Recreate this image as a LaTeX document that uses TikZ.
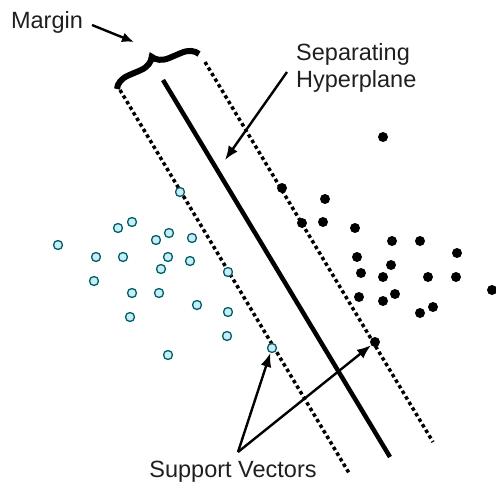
\documentclass[tikz,border=0pt]{standalone}
\usepackage{fontspec}
\setmainfont{Liberation Sans}
\usetikzlibrary{arrows.meta,decorations.pathreplacing}

\begin{document}
\begin{tikzpicture}[x=1pt, y=-1pt,
    caption/.style = {font=\fontsize{23.5}{27}\selectfont, text=black!88, inner sep=1pt},
    negdot/.style = {draw=teal!75!black, fill=cyan!22!white, line width=1.3pt, circle, inner sep=0pt, minimum size=9pt},
    posdot/.style = {fill=black, circle, inner sep=0pt, minimum size=10pt},
    marginline/.style = {line width=3.5pt, dash pattern=on 3.5pt off 3pt},
    plane/.style = {line width=4.5pt},
    pointer/.style = {line width=2.4pt, -{Latex[length=14pt,width=11pt]}}]
    \useasboundingbox (0,0) rectangle (496,485);

    % the hyperplane and its margins
    \coordinate (l1) at (120,90);  \coordinate (l2) at (349,473);
    \coordinate (h1) at (163,80);  \coordinate (h2) at (390,457);
    \coordinate (r1) at (205,62);  \coordinate (r2) at (433,442);
    \draw[marginline] (l1) -- (l2);
    \draw[plane] (h1) -- (h2);
    \draw[marginline] (r1) -- (r2);

    % class one
    \foreach \x/\y [count=\i] in {180/192, 118/228, 132/222, 58/245, 96/257, 123/257,
        156/240, 169/233, 192/238, 168/257, 190/261, 161/269, 94/281, 228/272,
        132/293, 159/293, 197/305, 228/312, 130/317, 227/336, 168/355, 272/348}
        \node[negdot] (n\i) at (\x,\y) {};

    % class two
    \foreach \x/\y [count=\i] in {383/137, 282/188, 325/199, 302/223, 323/222, 355/228,
        392/241, 420/241, 457/253, 357/257, 391/265, 361/273, 383/277, 428/277,
        456/277, 492/290, 359/297, 383/301, 395/294, 420/313, 433/307, 375/342}
        \node[posdot] (p\i) at (\x,\y) {};

    % labels
    \node[caption] (margintxt) at (47,22) {Margin};
    \node[caption, align=left, anchor=north west] (septxt) at (295,42) {Separating\\Hyperplane};
    \node[caption] (svtxt) at (233,472) {Support Vectors};

    \draw[line width=6pt, decorate, decoration={brace, amplitude=16pt}] (117,89) -- (199,54);

    \coordinate (hp) at (225,160);
    \coordinate (sv) at (238,452);
    \draw[pointer, -{Latex[length=12pt,width=10pt]}] (92,25) -- (134,42);
    \draw[pointer] (287,72) -- (hp);
    \draw[pointer] (sv) -- (n22);
    \draw[pointer] (sv) -- (p22);

\end{tikzpicture}
\end{document}
